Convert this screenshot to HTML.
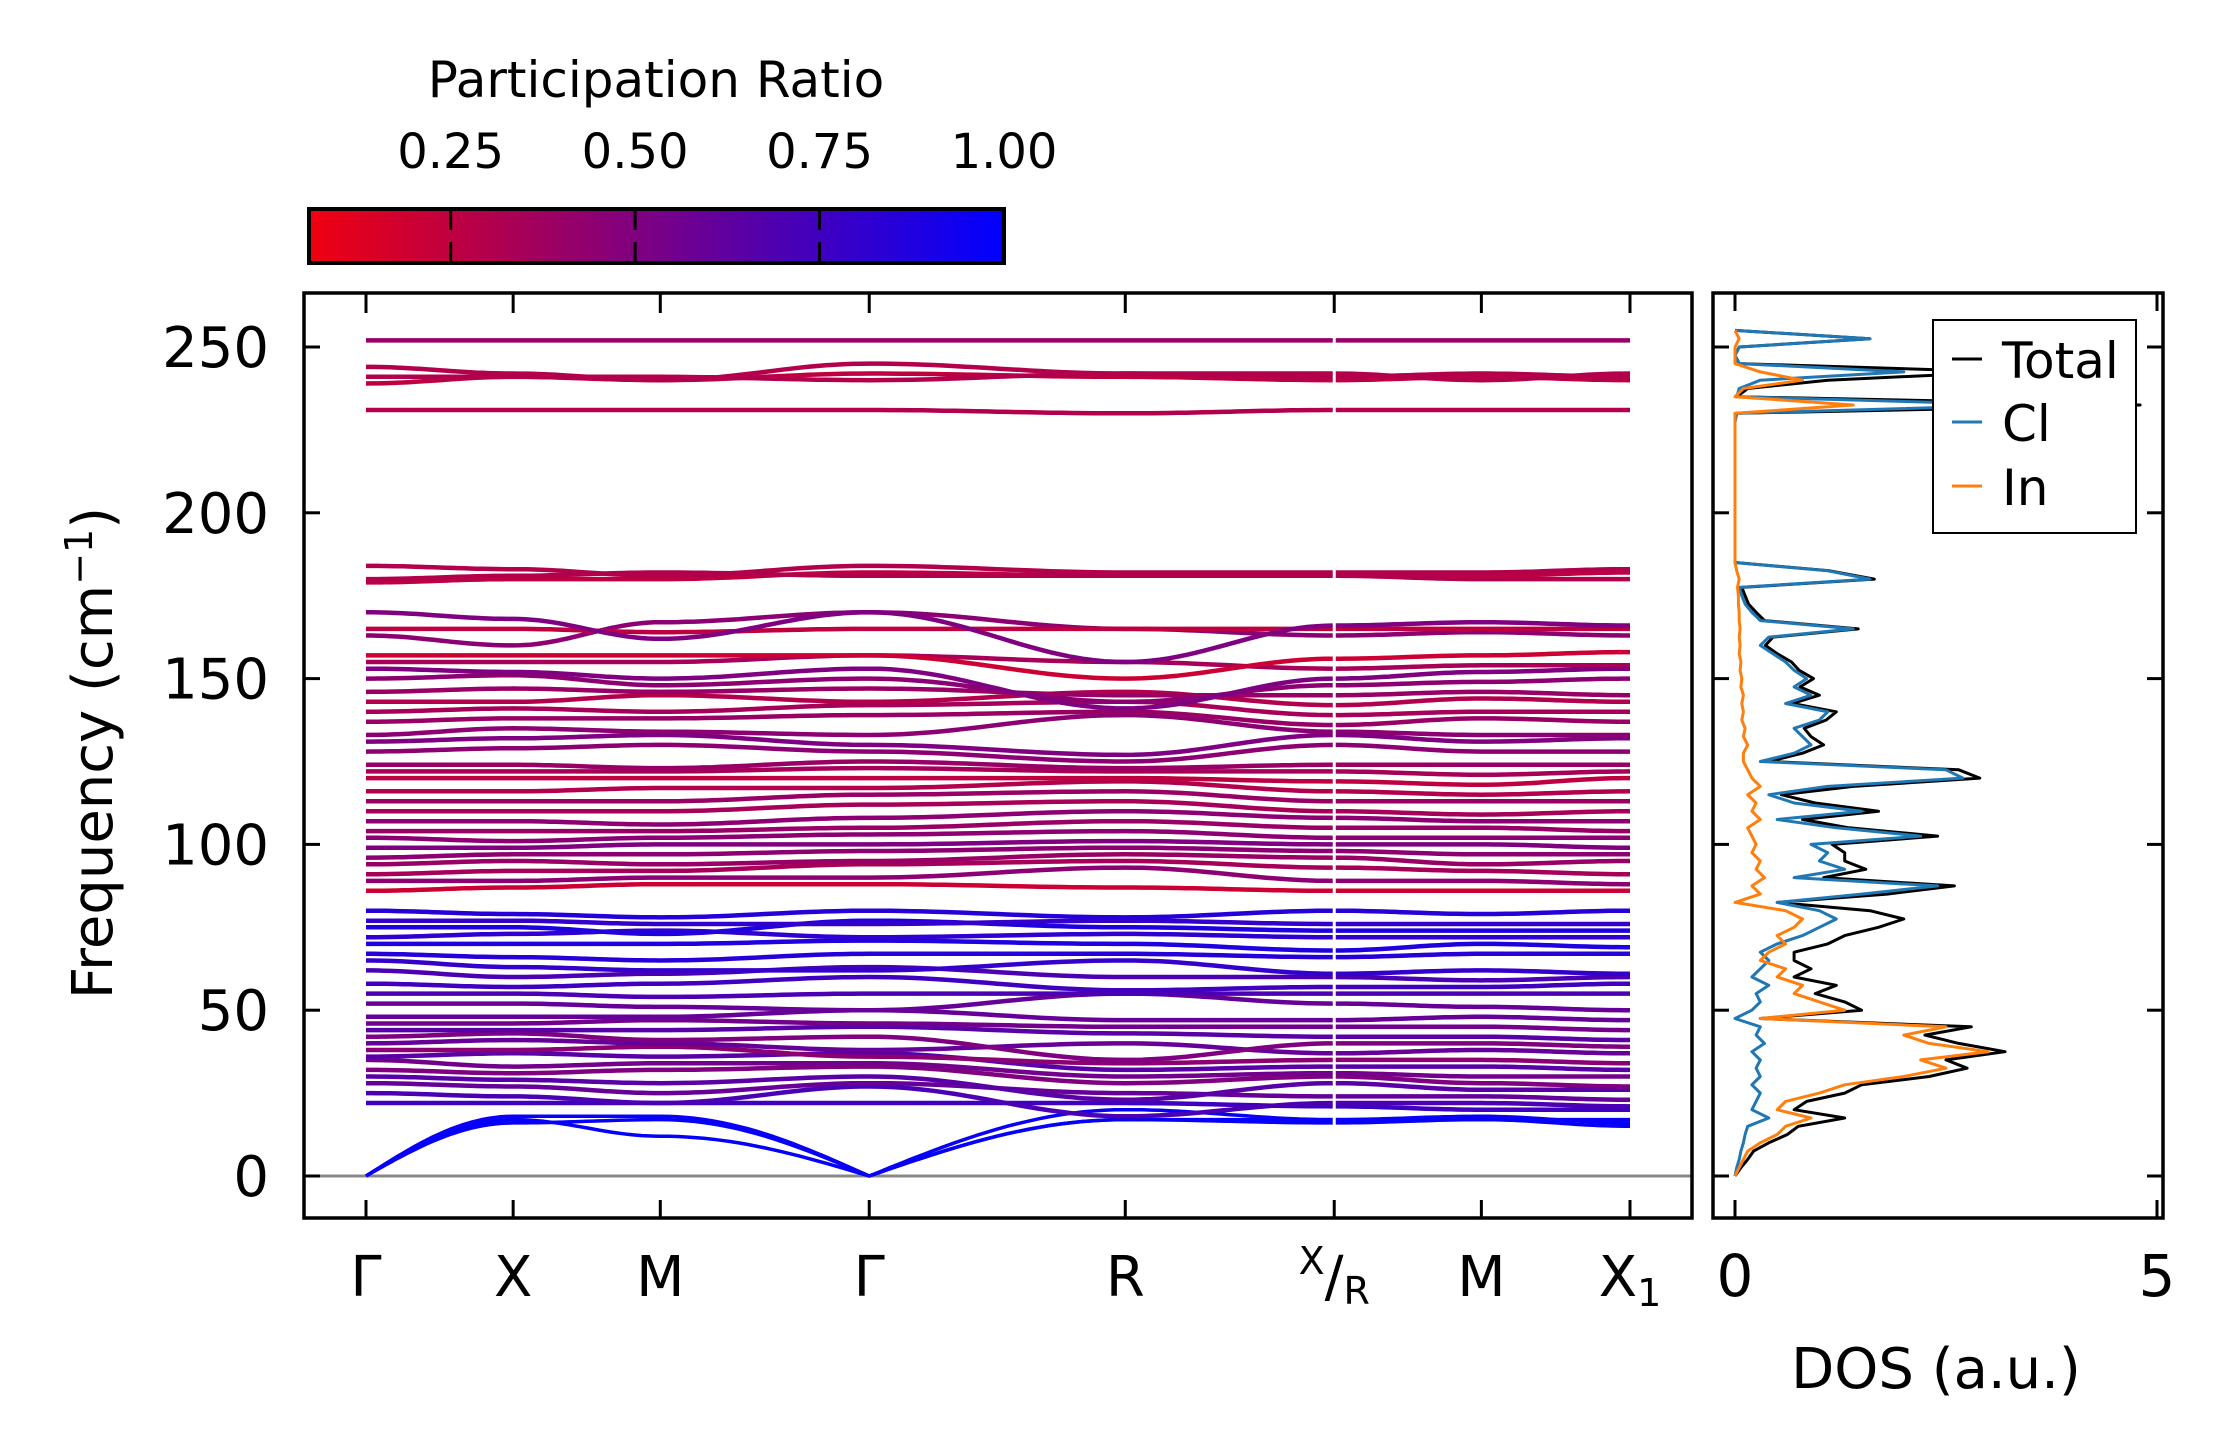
<!DOCTYPE html>
<html><head><meta charset="utf-8"><style>
html,body{margin:0;padding:0;background:#fff;}
svg{display:block;font-family:"DejaVu Sans","Liberation Sans",sans-serif;}
</style></head><body>
<svg id="fig" width="2235" height="1455" viewBox="0 0 2235 1455" xmlns="http://www.w3.org/2000/svg">
<defs>
<linearGradient id="cmap" x1="0" x2="1" y1="0" y2="0">
<stop offset="0" stop-color="rgb(240,0,15)"/><stop offset="1" stop-color="rgb(0,0,255)"/>
</linearGradient>
<clipPath id="clipMain"><rect x="304" y="293" width="1388" height="925"/></clipPath>
<clipPath id="clipDos"><rect x="1713" y="293" width="450" height="925"/></clipPath>
</defs>
<g>
<text x="656" y="97" font-size="50" text-anchor="middle">Participation Ratio</text>
<rect x="309" y="209" width="695" height="54" fill="url(#cmap)" stroke="#000" stroke-width="4"/>
<g id="cbticks"></g>
</g>
<g id="bands" clip-path="url(#clipMain)"></g>
<g id="mainAxes"></g>
<g id="dos" clip-path="url(#clipDos)"></g>
<g id="dosAxes"></g>
<text transform="translate(112,753) rotate(-90)" font-size="56" text-anchor="middle">Frequency (cm<tspan dy="-20" font-size="38">−1</tspan><tspan dy="20">)</tspan></text>
<text x="1936" y="1388" font-size="56" text-anchor="middle">DOS (a.u.)</text>
<g>
<rect x="1933" y="320" width="203" height="213" fill="#fff" stroke="#000" stroke-width="2"/>
<line x1="1952" y1="359" x2="1982" y2="359" stroke="#000" stroke-width="3"/>
<text x="2002" y="378" font-size="50">Total</text>
<line x1="1952" y1="422" x2="1982" y2="422" stroke="#1f77b4" stroke-width="3"/>
<text x="2002" y="441" font-size="50">Cl</text>
<line x1="1952" y1="486" x2="1982" y2="486" stroke="#ff7f0e" stroke-width="3"/>
<text x="2002" y="505" font-size="50">In</text>
</g>
</svg>
<script>
const kLabels = ["Γ","X","M","Γ","R","X/R","M","X1"];
const kPos = [0,1,2,3.42,5.16,6.58,7.58,8.59];
const yTicks = [0,50,100,150,200,250];
const cbTicks = [0.25,0.50,0.75,1.00];
const bandFreqs = [
[0,17,12,0,17,16,17,15],[0,16,17,0,17,17,17,17],[0,18,18,0,20,17,18,16],
[22,22,22,22,22,21,20,20],[25,24,22,27,18,22,22,21],[28,27,25,28,25,24,24,23],
[30,29,28,30,23,28,26,26],[32,31,32,33,28,30,28,27],[35,33,34,34,30,31,30,30],
[36,37,36,37,32,33,33,32],[38,38,39,36,34,35,35,34],[40,41,40,38,40,37,38,37],
[42,43,41,42,35,40,40,39],[44,44,44,45,43,42,42,41],[46,46,47,46,45,45,45,44],
[48,48,48,50,47,47,48,47],[52,52,51,50,55,52,51,50],[55,55,54,55,55,55,55,55],
[58,57,58,60,56,57,57,58],[62,60,61,63,60,60,59,60],[65,63,62,62,65,61,62,61],
[67,66,65,67,67,66,67,67],[70,70,70,71,70,68,70,69],[72,73,74,72,73,72,72,72],
[75,75,73,77,75,74,74,74],[77,77,76,76,77,76,76,76],[80,79,78,80,78,80,79,80],
[86,87,88,88,87,86,86,86],[89,89,90,90,93,89,89,88],[91,92,92,94,95,93,92,91],
[94,95,94,95,97,96,94,95],[96,97,97,98,99,98,97,97],[99,99,100,100,101,100,100,99],
[102,101,102,103,104,102,102,102],[104,104,104,105,107,105,105,104],[107,107,106,108,110,108,107,107],
[110,110,110,112,113,110,109,110],[113,113,113,115,116,113,113,113],[116,116,117,117,119,116,115,116],
[120,120,120,120,120,119,118,120],[122,122,122,123,122,122,121,122],[124,124,123,125,123,124,124,124],
[128,129,130,128,125,130,128,128],[131,132,133,130,127,133,131,132],[133,135,134,133,139,134,133,133],
[137,138,138,139,140,136,138,137],[140,141,140,142,143,139,140,140],[143,143,145,143,146,142,144,143],
[146,147,146,147,145,145,146,145],[150,151,148,150,143,148,149,150],[153,152,150,153,141,150,152,153],
[155,155,155,157,155,153,154,154],[157,157,157,157,150,156,157,158],[163,160,167,170,165,163,164,163],
[165,165,164,165,165,165,165,165],[170,168,162,170,155,166,167,166],[179,180,180,182,181,181,181,182],
[180,181,182,181,181,181,180,180],[184,183,181,184,182,182,182,183],
[231,231,231,231,230,231,231,231],[239,241,240,242,241,240,241,240],[241,241,241,240,242,242,240,242],
[244,242,240,245,242,241,242,241],[252,252,252,252,252,252,252,252]
];
const bandPR = [0.98,0.98,0.96,0.75,0.7,0.6,0.65,0.5,0.55,0.65,0.45,0.6,0.5,0.65,0.55,0.6,0.6,0.7,0.75,0.7,0.8,0.85,0.88,0.82,0.88,0.8,0.85,
0.2,0.45,0.35,0.4,0.45,0.5,0.45,0.4,0.45,0.35,0.4,0.3,0.25,0.35,0.4,
0.45,0.5,0.45,0.4,0.35,0.3,0.4,0.45,0.5,0.35,0.2,0.45,0.25,0.5,0.25,0.3,0.3,
0.3,0.25,0.3,0.3,0.4];
const dosFreq = [];
for (let i=0;i<=102;i++) dosFreq.push(i*2.5);
const dosIn = [0,0.05,0.1,0.15,0.3,0.5,0.6,0.9,0.5,0.6,1.0,1.3,2.0,2.5,2.2,3.0,2.3,2.0,2.5,0.3,1.3,1.0,0.7,0.8,0.5,0.6,0.3,0.4,0.6,0.5,0.7,0.8,0.6,0.0,0.3,0.2,0.35,0.25,0.3,0.2,0.25,0.2,0.15,0.3,0.2,0.25,0.15,0.3,0.2,0.15,0.1,0.1,0.15,0.1,0.12,0.08,0.1,0.08,0.1,0.07,0.08,0.06,0.07,0.05,0.06,0.05,0.06,0.05,0.05,0.04,0.04,0.03,0.05,0.02,0,0,0,0,0,0,0,0,0,0,0,0,0,0,0,0,0,0,0,1.4,0,0.1,0.8,0.3,0,0,0,0.05,0];
const dosCl = [0,0.02,0.05,0.07,0.1,0.12,0.15,0.4,0.2,0.25,0.3,0.2,0.3,0.25,0.3,0.2,0.35,0.25,0.3,0.0,0.2,0.3,0.25,0.4,0.2,0.3,0.4,0.3,0.5,0.8,1.0,1.2,1.0,0.5,1.5,2.4,0.7,1.3,1.0,1.1,0.9,2.2,1.2,0.5,1.5,0.7,0.4,1.1,2.7,2.5,0.3,0.7,0.9,0.8,0.7,1.0,1.1,0.6,0.9,0.7,0.85,0.7,0.6,0.45,0.3,0.4,1.4,0.3,0.2,0.12,0.08,0.05,1.6,1.1,0,0,0,0,0,0,0,0,0,0,0,0,0,0,0,0,0,0,0.02,3.5,0.02,0.05,0.3,2.0,0.05,0,0.05,1.6,0];
const dosTotal = [0,0.07,0.15,0.22,0.4,0.62,0.75,1.3,0.7,0.85,1.3,1.5,2.3,2.75,2.5,3.2,2.65,2.25,2.8,0.3,1.5,1.3,0.95,1.2,0.7,0.9,0.7,0.7,1.1,1.3,1.7,2.0,1.6,0.5,1.8,2.6,1.05,1.55,1.3,1.3,1.15,2.4,1.35,0.8,1.7,0.95,0.55,1.4,2.9,2.65,0.4,0.8,1.05,0.9,0.82,1.08,1.2,0.68,1.0,0.77,0.93,0.76,0.67,0.5,0.36,0.45,1.46,0.35,0.25,0.16,0.12,0.08,1.65,1.12,0,0,0,0,0,0,0,0,0,0,0,0,0,0,0,0,0,0,0.02,4.8,0.02,0.15,1.1,3.2,0.05,0,0.05,1.6,0];

const NS="http://www.w3.org/2000/svg";
const X0=366, X1=1630, Y0=1176, PPU=(1176-347)/250;
const sx = k => X0 + (k-kPos[0])/(kPos[kPos.length-1]-kPos[0])*(X1-X0);
const sy = f => Y0 - f*PPU;
const DX0=1735, DPU=(2157-1735)/5;
const dx = v => DX0 + v*DPU;
const VMIN=0.058, VMAX=1.0;
function color(pr){let t=Math.max(0,Math.min(1,(pr-VMIN)/(VMAX-VMIN)));return `rgb(${Math.round(240*(1-t))},0,${Math.round(15+240*t)})`;}
function mk(tag,attrs,parent){const e=document.createElementNS(NS,tag);for(const k in attrs)e.setAttribute(k,attrs[k]);parent.appendChild(e);return e;}

const cbt=document.getElementById('cbticks');
cbTicks.forEach(v=>{const x=309+(v-VMIN)/(VMAX-VMIN)*695;
 const l=mk('line',{x1:x,x2:x,y1:209,y2:230,stroke:'#000','stroke-width':3},cbt);
 
 
 const l2=mk('line',{x1:x,x2:x,y1:242,y2:263,stroke:'#000','stroke-width':3},cbt);
 
 
 const t=mk('text',{x:x,y:168,'font-size':48,'text-anchor':'middle'},cbt);t.textContent=v.toFixed(2);
 
 
});

const bg=document.getElementById('bands');
const zl=mk('line',{x1:304,x2:1692,y1:sy(0),y2:sy(0),stroke:'#888','stroke-width':3},bg);


bandFreqs.forEach((b,bi)=>{
 let d='';
 for(let s=0;s<b.length-1;s++){
  const ka=kPos[s],kb=kPos[s+1];
  for(let j=0;j<=24;j++){const u=j/24;
   let w=(1-Math.cos(Math.PI*u))/2;
   if(b[s]===0) w=Math.sin(Math.PI*u/2);
   else if(b[s+1]===0) w=1-Math.cos(Math.PI*u/2);
   const f=b[s]*(1-w)+b[s+1]*w;const k=ka+(kb-ka)*u;
   d+=(s===0&&j===0?'M':'L')+sx(k).toFixed(1)+' '+sy(f).toFixed(1)+' ';}
 }
 const p=mk('path',{d:d,fill:'none',stroke:color(bandPR[bi]),'stroke-width':bi<3?3.5:4.5,'stroke-linejoin':'round'},bg);
 
 
});
mk('rect',{x:sx(kPos[5])-1.5,y:293,width:3,height:880,fill:'#fff'},bg);

const ma=document.getElementById('mainAxes');
mk('rect',{x:304,y:293,width:1388,height:925,fill:'none',stroke:'#000','stroke-width':3.5},ma);
yTicks.forEach(v=>{const y=sy(v);
 mk('line',{x1:304,x2:320,y1:y,y2:y,stroke:'#000','stroke-width':3},ma);
 const t=mk('text',{x:269,y:y+20,'font-size':56,'text-anchor':'end'},ma);t.textContent=v;
 
 
});
kPos.forEach((k,i)=>{const x=sx(k);
 mk('line',{x1:x,x2:x,y1:1218,y2:1200,stroke:'#000','stroke-width':3},ma);
 mk('line',{x1:x,x2:x,y1:293,y2:313,stroke:'#000','stroke-width':3},ma);
 const t=mk('text',{x:x,y:1296,'font-size':56,'text-anchor':'middle'},ma);
 
 
 const lab=kLabels[i];
 if(lab==='X/R'){t.innerHTML='<tspan font-size="38" dy="-22">X</tspan><tspan dy="22">/</tspan><tspan font-size="38" dy="8">R</tspan>';}
 else if(lab==='X1'){t.innerHTML='X<tspan font-size="38" dy="10">1</tspan>';}
 else t.textContent=lab;
});

const dg=document.getElementById('dos');
function dosPath(vals,col,name){let d='';vals.forEach((v,i)=>{d+=(i?'L':'M')+dx(v).toFixed(1)+' '+sy(dosFreq[i]).toFixed(1)+' ';});
 const p=mk('path',{d:d,fill:'none',stroke:col,'stroke-width':3,'stroke-linejoin':'round'},dg);
 
 }
dosPath(dosTotal,'#000','dos-total-line');
dosPath(dosCl,'#1f77b4','dos-cl-line');
dosPath(dosIn,'#ff7f0e','dos-in-line');

const da=document.getElementById('dosAxes');
mk('rect',{x:1713,y:293,width:450,height:925,fill:'none',stroke:'#000','stroke-width':3.5},da);
yTicks.forEach(v=>{const y=sy(v);
 mk('line',{x1:1713,x2:1729,y1:y,y2:y,stroke:'#000','stroke-width':3},da);
 mk('line',{x1:2147,x2:2163,y1:y,y2:y,stroke:'#000','stroke-width':3},da);});
[0,5].forEach(v=>{const x=dx(v);
 mk('line',{x1:x,x2:x,y1:1218,y2:1200,stroke:'#000','stroke-width':3},da);
 mk('line',{x1:x,x2:x,y1:293,y2:311,stroke:'#000','stroke-width':3},da);
 const t=mk('text',{x:x,y:1296,'font-size':58,'text-anchor':'middle'},da);t.textContent=v;
 
 });
</script>
</body></html>
